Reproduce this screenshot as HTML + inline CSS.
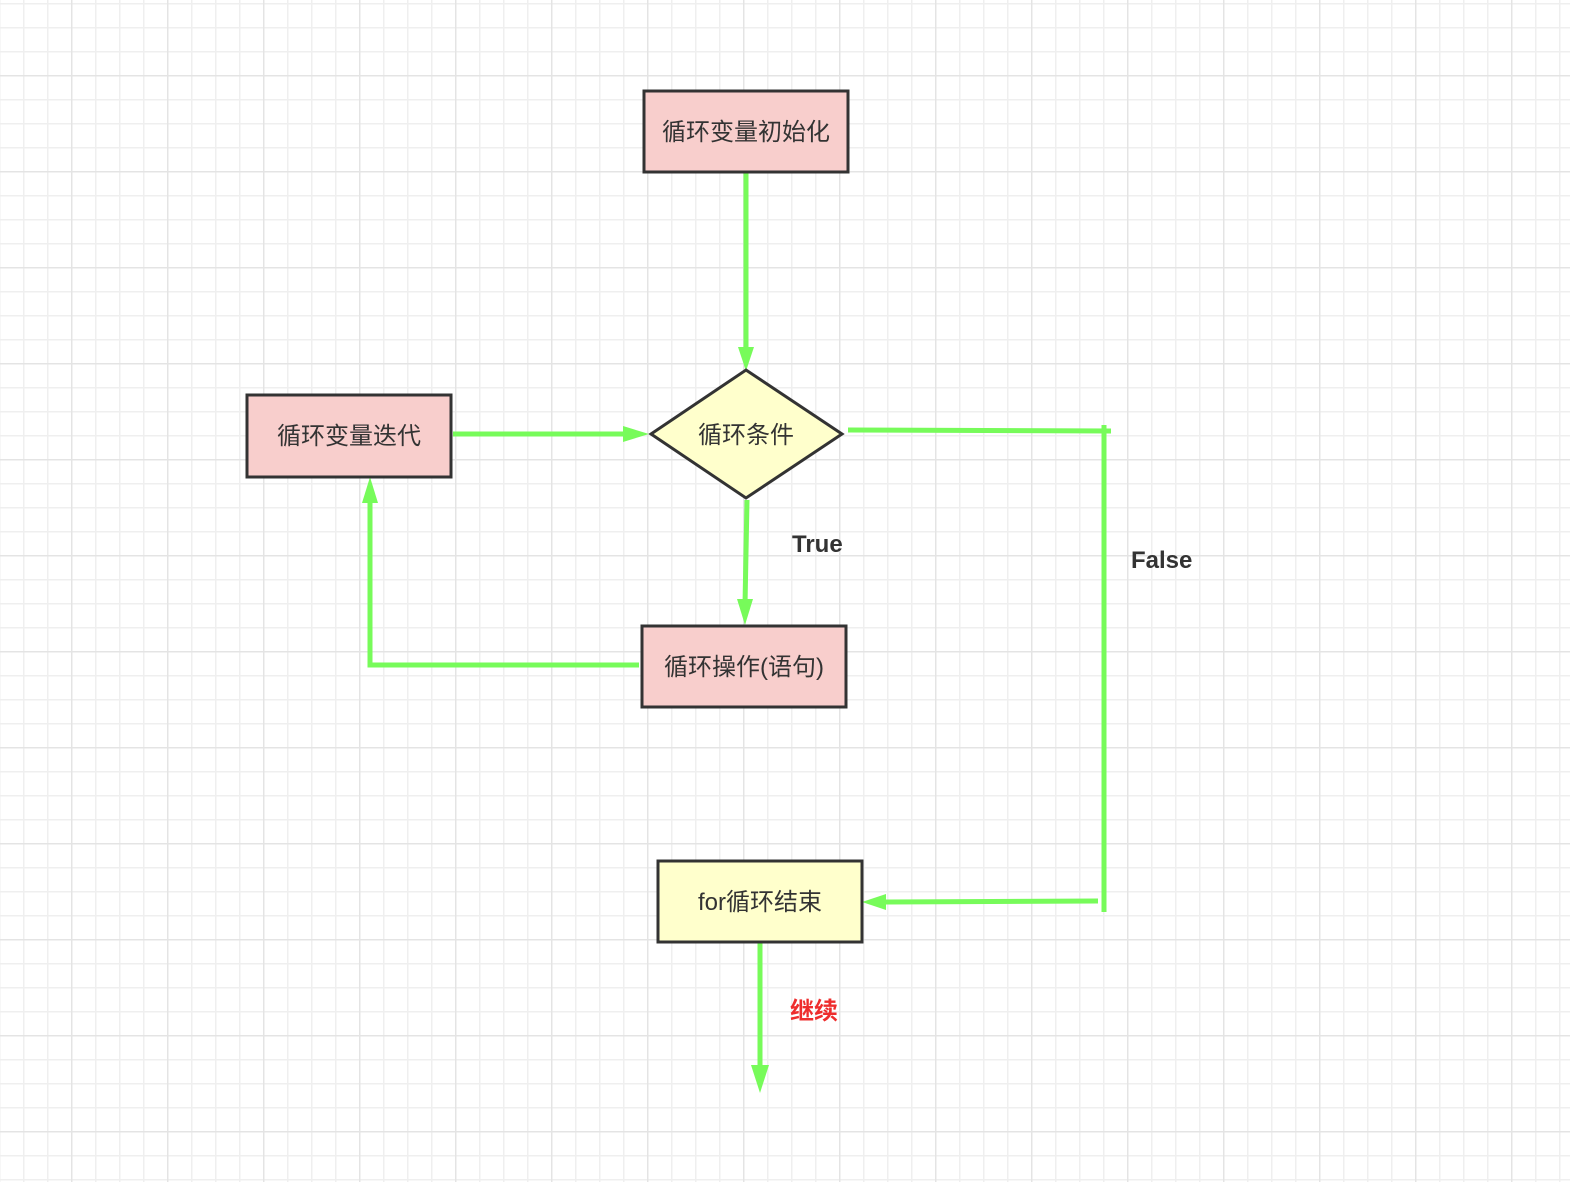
<!DOCTYPE html>
<html><head><meta charset="utf-8"><style>
html,body{margin:0;padding:0;background:#fff;}
svg{display:block;}
text{font-family:"Liberation Sans","Noto Sans CJK SC",sans-serif;}
</style></head><body>
<svg width="1570" height="1182" viewBox="0 0 1570 1182" xmlns="http://www.w3.org/2000/svg">
<defs>
<pattern id="minor" x="-1" y="3" width="24" height="24" patternUnits="userSpaceOnUse">
<path d="M0 0H24M0 0V24" stroke="#efefef" stroke-width="3" fill="none"/>
</pattern>
<pattern id="major" x="-25" y="-21" width="96" height="96" patternUnits="userSpaceOnUse">
<path d="M0 0H96M0 0V96" stroke="#e4e4e4" stroke-width="3" fill="none"/>
</pattern>
</defs>
<rect width="1570" height="1182" fill="url(#minor)"/>
<rect width="1570" height="1182" fill="url(#major)"/>
<g transform="translate(1,1)">
<g stroke="#77fb5a" stroke-width="5" fill="none">
<path d="M745 172V350"/>
<path d="M452 433H628"/>
<path d="M746 499L744 604"/>
<path d="M638 664H369V500"/>
<path d="M847 429L1110 430"/>
<path d="M1103 424V911"/>
<path d="M1097 900L882 901"/>
<path d="M759 942V1068"/>
</g>
<g fill="#77fb5a">
<path d="M737 346L753 346L745 370Z"/>
<path d="M622 425L622 441L648 433Z"/>
<path d="M736 598L752 598L744 624Z"/>
<path d="M361 502L377 502L369 476Z"/>
<path d="M885 893L885 909L861 901Z"/>
<path d="M750 1064L768 1064L759 1092Z"/>
</g>
<g stroke="#333" stroke-width="3">
<rect x="643" y="90" width="204" height="81" fill="#f8cecc"/>
<rect x="246" y="394" width="204" height="82" fill="#f8cecc"/>
<rect x="641" y="625" width="204" height="81" fill="#f8cecc"/>
<rect x="657" y="860" width="204" height="81" fill="#ffffcc"/>
<path d="M745 369L841 433L745 497L650 433Z" fill="#ffffcc"/>
</g>
<g font-size="24" fill="#333" text-anchor="middle">
<text x="745" y="139">循环变量初始化</text>
<text x="348" y="443">循环变量迭代</text>
<text x="745" y="442">循环条件</text>
<text x="743" y="674">循环操作(语句)</text>
<text x="759" y="909">for循环结束</text>
</g>
<g font-size="24" fill="#333" font-weight="bold">
<text x="791" y="551">True</text>
<text x="1130" y="567">False</text>
<text x="789" y="1018" fill="#ee2d2d">继续</text>
</g>
</g>
</svg>
</body></html>
